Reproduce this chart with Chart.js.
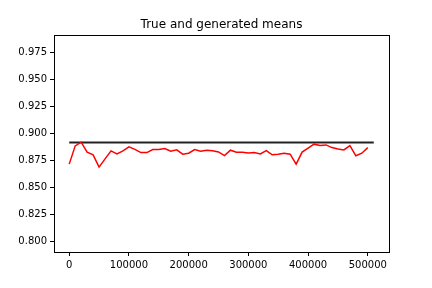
<!DOCTYPE html>
<html>
<head>
<meta charset="utf-8">
<script src="https://cdn.jsdelivr.net/npm/chart.js@4/dist/chart.umd.min.js"></script>
<style>
  body { margin: 0; background: #fff; }
  canvas { display: block; }
</style>
</head>
<body>
<canvas id="meansChart" width="432" height="288"></canvas>
<script>
// steps (every 10000) and the generated mean at each step
const steps = [0, 10000, 20000, 30000, 40000, 50000, 60000, 70000, 80000, 90000,
               100000, 110000, 120000, 130000, 140000, 150000, 160000, 170000, 180000, 190000,
               200000, 210000, 220000, 230000, 240000, 250000, 260000, 270000, 280000, 290000,
               300000, 310000, 320000, 330000, 340000, 350000, 360000, 370000, 380000, 390000,
               400000, 410000, 420000, 430000, 440000, 450000, 460000, 470000, 480000, 490000, 500000];
const generatedMeans = [0.8717, 0.8886, 0.8920, 0.8828, 0.8803, 0.8689, 0.8766, 0.8840, 0.8812, 0.8840,
                        0.8877, 0.8854, 0.8824, 0.8824, 0.8852, 0.8852, 0.8861, 0.8837, 0.8849, 0.8809,
                        0.8818, 0.8852, 0.8837, 0.8846, 0.8840, 0.8830, 0.8796, 0.8846, 0.8828, 0.8828,
                        0.8821, 0.8824, 0.8812, 0.8843, 0.8803, 0.8809, 0.8818, 0.8809, 0.8717, 0.8828,
                        0.8865, 0.8902, 0.8889, 0.8895, 0.8870, 0.8858, 0.8849, 0.8889, 0.8794, 0.8818, 0.8870];
// true mean, drawn as a flat line
const trueMeanX = [0, 510000];
const trueMeanY = [0.8917, 0.8917];

const xTicks = [0, 100000, 200000, 300000, 400000, 500000];
const yTicks = [0.800, 0.825, 0.850, 0.875, 0.900, 0.925, 0.950, 0.975];

const fontFamily = "'DejaVu Sans', sans-serif";

// box round the plot area (matplotlib style frame), title centred over the plot area
const frame = {
    id: 'frame',
    afterLayout(chart) {
        if (chart.titleBlock) {
            chart.titleBlock.left = chart.chartArea.left;
            chart.titleBlock.right = chart.chartArea.right;
        }
    },
    afterDraw(chart) {
        const a = chart.chartArea;
        const ctx = chart.ctx;
        ctx.save();
        ctx.strokeStyle = '#000';
        ctx.lineWidth = 1;
        ctx.strokeRect(Math.round(a.left) + 0.5, Math.round(a.top) + 0.5,
                       Math.round(a.right - a.left), Math.round(a.bottom - a.top));
        ctx.restore();
    }
};

new Chart(document.getElementById('meansChart'), {
    type: 'line',
    data: {
        datasets: [
            {
                label: 'generated',
                data: steps.map((s, i) => ({ x: s, y: generatedMeans[i] })),
                borderColor: '#ff0000',
                borderWidth: 1.5,
                pointRadius: 0,
                tension: 0
            },
            {
                label: 'true',
                data: trueMeanX.map((s, i) => ({ x: s, y: trueMeanY[i] })),
                borderColor: '#222',
                borderWidth: 2,
                pointRadius: 0
            }
        ]
    },
    options: {
        responsive: false,
        animation: false,
        layout: { padding: { left: 0, right: 43, top: 0, bottom: 0 } },
        plugins: {
            legend: { display: false },
            tooltip: { enabled: false },
            title: {
                display: true,
                text: 'True and generated means',
                color: '#000',
                font: { family: fontFamily, size: 12, weight: 'normal' },
                padding: { top: 18, bottom: 2.6 }
            }
        },
        scales: {
            x: {
                type: 'linear',
                min: -25500,
                max: 535500,
                afterBuildTicks: s => { s.ticks = xTicks.map(v => ({ value: v })); },
                afterFit: s => { s.height = 36; },
                grid: { drawOnChartArea: false, drawTicks: true, tickLength: 4, tickColor: '#000' },
                border: { display: true, color: '#000' },
                ticks: {
                    color: '#000',
                    padding: 3,
                    maxRotation: 0,
                    font: { family: fontFamily, size: 10 },
                    callback: v => String(v)
                }
            },
            y: {
                min: 0.7903,
                max: 0.9913,
                afterBuildTicks: s => { s.ticks = yTicks.map(v => ({ value: v })); },
                afterFit: s => { s.width = 54; },
                grid: { drawOnChartArea: false, drawTicks: true, tickLength: 4, tickColor: '#000' },
                border: { display: true, color: '#000' },
                ticks: {
                    color: '#000',
                    padding: 3,
                    font: { family: fontFamily, size: 10 },
                    callback: v => v.toFixed(3)
                }
            }
        }
    },
    plugins: [frame]
});
</script>
</body>
</html>
